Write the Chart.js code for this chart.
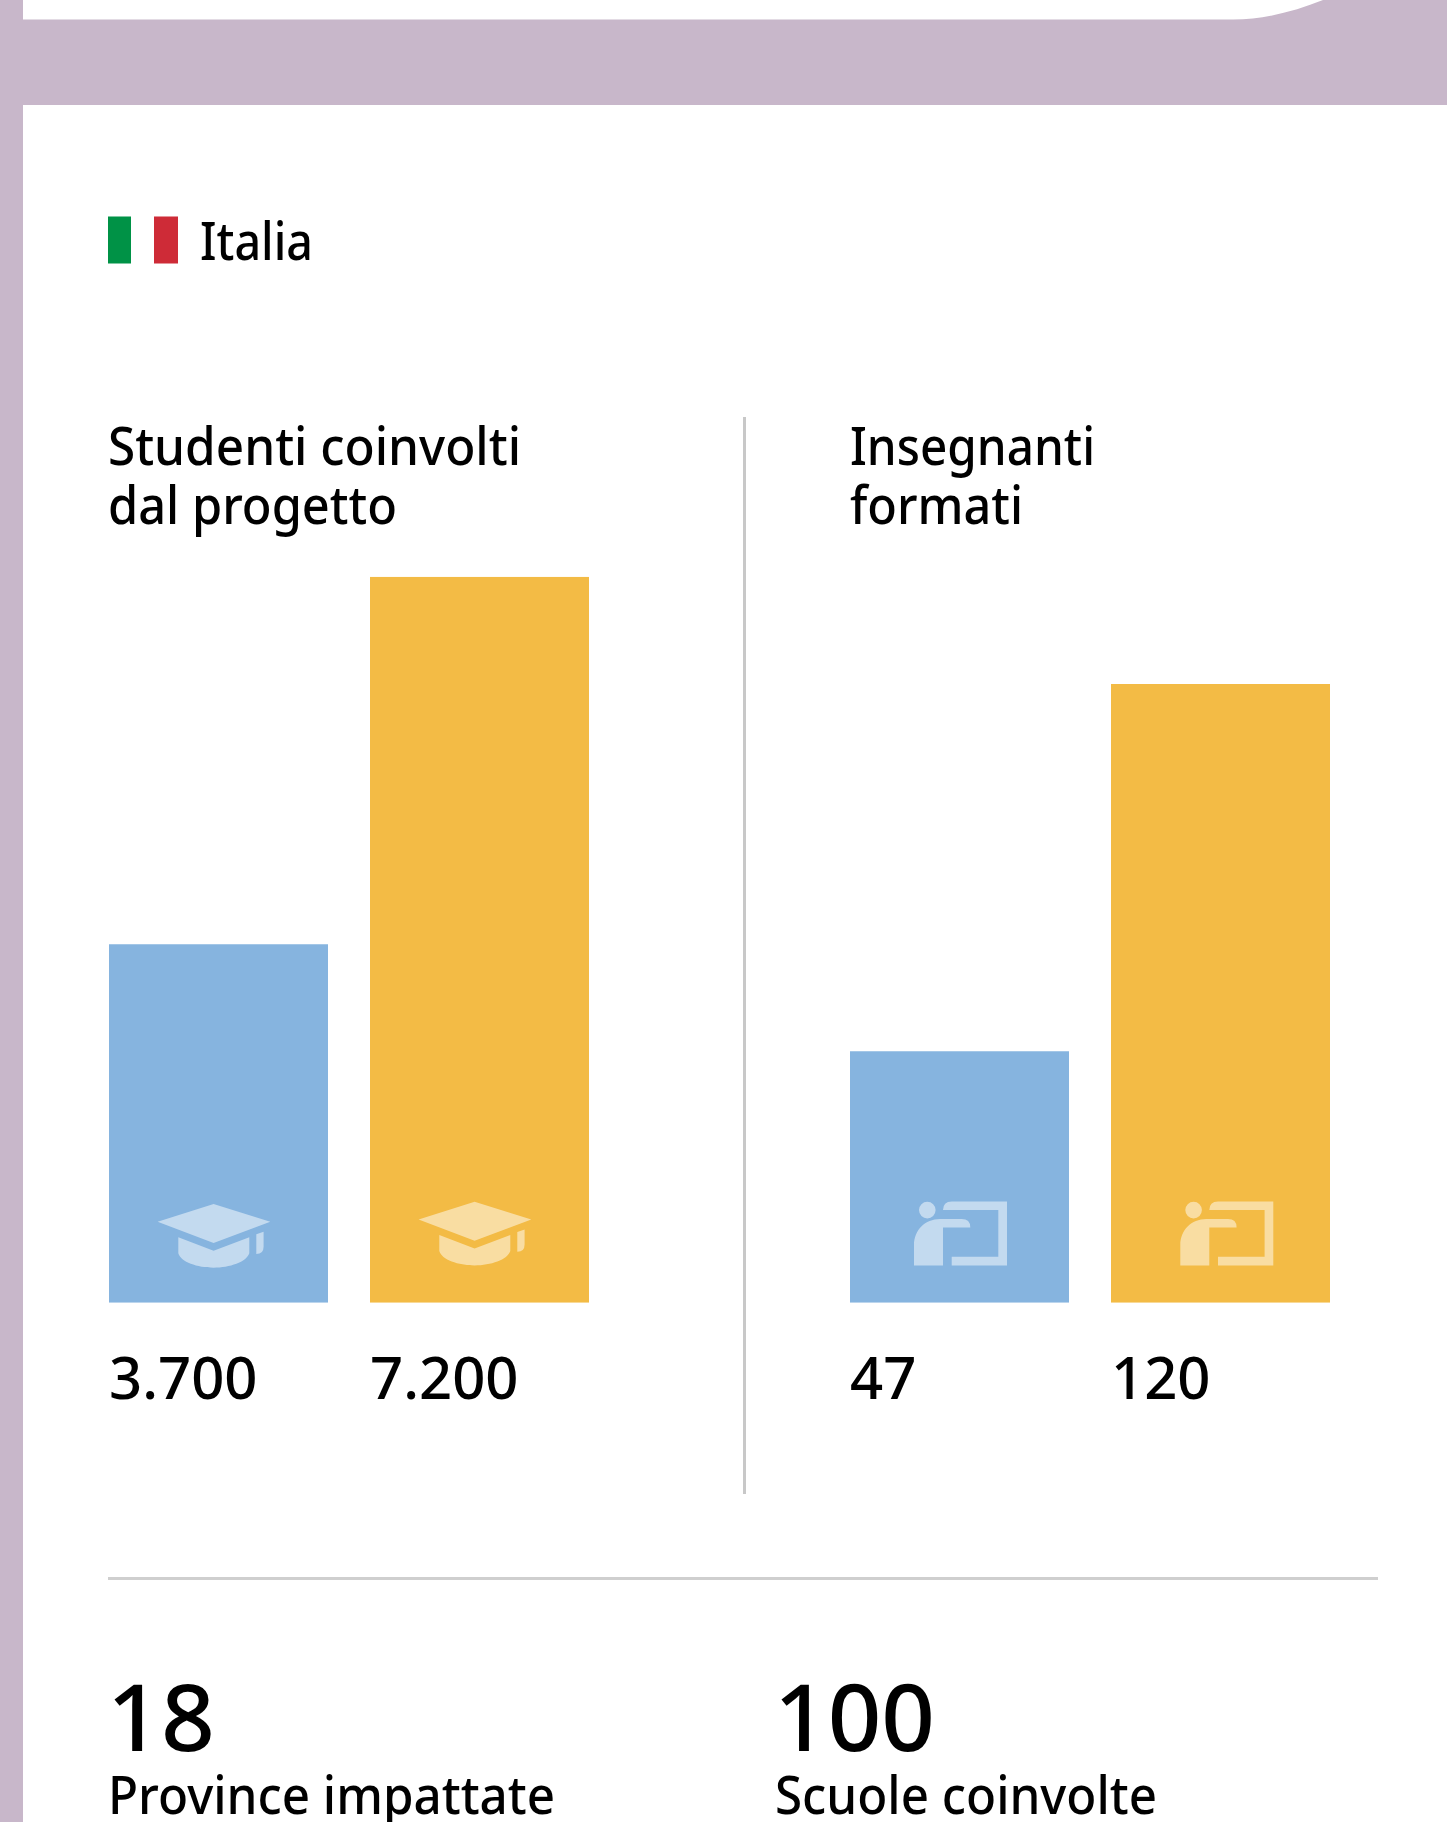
<!DOCTYPE html>
<html lang="it">
<head>
<meta charset="utf-8">
<title>Italia</title>
<style>
html,body{margin:0;padding:0;background:#fff;width:1447px;height:1822px;overflow:hidden}
svg{position:absolute;left:0;top:0}
canvas{position:absolute}
text{font-family:"Noto Sans";font-weight:500;fill:#000}
</style>
<script src="https://cdn.jsdelivr.net/npm/chart.js@4/dist/chart.umd.min.js"></script>
</head>
<body>
<svg width="1447" height="1822" viewBox="0 0 1447 1822" id="bg">
  <path fill="#c8b7ca" d="M0 0H23V19.5H1233C1265 19.5 1295 11 1323 0H1447V105H23V1822H0Z"/>
  <rect x="108" y="216.5" width="23" height="47" fill="#009246"/>
  <rect x="154" y="216.5" width="24" height="47" fill="#ce2b37"/>
  <rect x="743" y="417" width="3" height="1077" fill="#c8c8c8"/>
  <rect x="108" y="1577" width="1270" height="3" fill="#cfcfcf"/>
</svg>
<canvas id="studenti" style="left:88px;top:566px"></canvas>
<canvas id="insegnanti" style="left:829px;top:566px"></canvas>
<script>
const studentiLabels = ["3.700", "7.200"];
const studentiValues = [3700, 7200];
const insegnantiLabels = ["47", "120"];
const insegnantiValues = [47, 120];
const barColors = ["#86b4df", "#f3bb45"];
const iconColor = "rgba(255,255,255,0.5)";

const texts = [
  ["Italia", 200, 260, 52, 113],
  ["Studenti coinvolti", 108, 465, 52, 413],
  ["dal progetto", 108, 524, 52, 289],
  ["Insegnanti", 850, 465, 52, 245],
  ["formati", 850, 524, 52, 173],
  ["18", 107, 1751, 93, 108],
  ["Province impattate", 108, 1814, 52, 447],
  ["100", 774, 1751, 93, 161],
  ["Scuole coinvolte", 775, 1814, 52, 382]
];
const svg = document.getElementById("bg");
texts.forEach(([str, x, y, size, width]) => {
  const t = document.createElementNS("http://www.w3.org/2000/svg", "text");
  t.textContent = str;
  t.setAttribute("x", x);
  t.setAttribute("y", y);
  t.setAttribute("font-size", size);
  t.setAttribute("textLength", width);
  t.setAttribute("lengthAdjust", "spacingAndGlyphs");
  svg.appendChild(t);
});

function capIcon(ctx, ox, oy) {
  ctx.beginPath();
  ctx.moveTo(ox, oy);
  ctx.lineTo(ox + 56.7, oy + 17.7);
  ctx.lineTo(ox, oy + 39);
  ctx.lineTo(ox - 56, oy + 17.7);
  ctx.closePath();
  ctx.moveTo(ox - 35.3, oy + 33.3);
  ctx.lineTo(ox, oy + 46.7);
  ctx.lineTo(ox + 35.7, oy + 33.3);
  ctx.lineTo(ox + 35.7, oy + 49.3);
  ctx.bezierCurveTo(ox + 33, oy + 58, ox + 16, oy + 63.7, ox, oy + 63.7);
  ctx.bezierCurveTo(ox - 16, oy + 63.7, ox - 33, oy + 58, ox - 35.3, oy + 49.3);
  ctx.closePath();
  ctx.moveTo(ox + 42.7, oy + 30.3);
  ctx.lineTo(ox + 50, oy + 27.7);
  ctx.lineTo(ox + 50, oy + 42.7);
  ctx.quadraticCurveTo(ox + 50, oy + 50, ox + 42.7, oy + 50);
  ctx.closePath();
  ctx.fill();
}
function teacherIcon(ctx, ox, oy) {
  ctx.beginPath();
  ctx.arc(ox + 13.3, oy - 55.3, 8.3, 0, Math.PI * 2);
  ctx.closePath();
  ctx.moveTo(ox, oy);
  ctx.lineTo(ox, oy - 20.3);
  ctx.bezierCurveTo(ox, oy - 35, ox + 11, oy - 46.3, ox + 26, oy - 46.3);
  ctx.lineTo(ox + 47.7, oy - 46.3);
  ctx.quadraticCurveTo(ox + 56.3, oy - 46.3, ox + 56.3, oy - 38);
  ctx.lineTo(ox + 29, oy - 38);
  ctx.lineTo(ox + 29, oy);
  ctx.closePath();
  ctx.moveTo(ox + 29, oy - 55.3);
  ctx.quadraticCurveTo(ox + 29, oy - 64, ox + 37.7, oy - 64);
  ctx.lineTo(ox + 93, oy - 64);
  ctx.lineTo(ox + 93, oy);
  ctx.lineTo(ox + 37.7, oy);
  ctx.lineTo(ox + 37.7, oy - 8.7);
  ctx.lineTo(ox + 84.3, oy - 8.7);
  ctx.lineTo(ox + 84.3, oy - 55.3);
  ctx.closePath();
  ctx.fill();
}
const iconPlugin = {
  id: "barIcons",
  afterDatasetsDraw(chart, args, opts) {
    const ctx = chart.ctx;
    ctx.save();
    ctx.fillStyle = iconColor;
    chart.getDatasetMeta(0).data.forEach((bar, i) => {
      const left = bar.x - bar.width / 2;
      if (opts.kind === "cap") {
        capIcon(ctx, left + 104.6, bar.base - (i === 0 ? 98.7 : 101));
      } else {
        teacherIcon(ctx, left + (i === 0 ? 64 : 69.3), bar.base - 37.3);
      }
    });
    ctx.restore();
  }
};

function makeChart(id, labels, values, axisMin, topPad, kind) {
  const el = document.getElementById(id);
  el.style.width = "522px";
  el.style.height = "837px";
  el.width = 522;
  el.height = 837;
  return new Chart(el, {
    type: "bar",
    plugins: [iconPlugin],
    data: {
      labels: labels,
      datasets: [{
        data: values,
        base: axisMin,
        backgroundColor: barColors,
        borderWidth: 0,
        barPercentage: 219 / 261,
        categoryPercentage: 1
      }]
    },
    options: {
      responsive: false,
      animation: false,
      layout: { autoPadding: false, padding: { top: topPad, left: 0, right: 0, bottom: 0 } },
      plugins: {
        legend: { display: false },
        title: { display: false },
        tooltip: { enabled: false },
        barIcons: { kind: kind }
      },
      scales: {
        x: {
          grid: { display: false, drawTicks: false },
          border: { display: false },
          afterFit(scale) {
            scale.height = 100.3;
            scale.paddingLeft = 0;
            scale.paddingRight = 0;
          },
          ticks: {
            color: "#000",
            font: { family: "Noto Sans", size: 58, weight: "500", lineHeight: 1.2 },
            align: "start",
            labelOffset: -109.5,
            padding: 45,
            maxRotation: 0,
            autoSkip: false
          }
        },
        y: {
          display: false,
          min: axisMin,
          max: values[1]
        }
      }
    }
  });
}
document.fonts.load('500 58px "Noto Sans"').finally(() => {
  makeChart("studenti", studentiLabels, studentiValues, 288, 10.7, "cap");
  makeChart("insegnanti", insegnantiLabels, insegnantiValues, -3, 118, "teacher");
});
</script>
</body>
</html>
